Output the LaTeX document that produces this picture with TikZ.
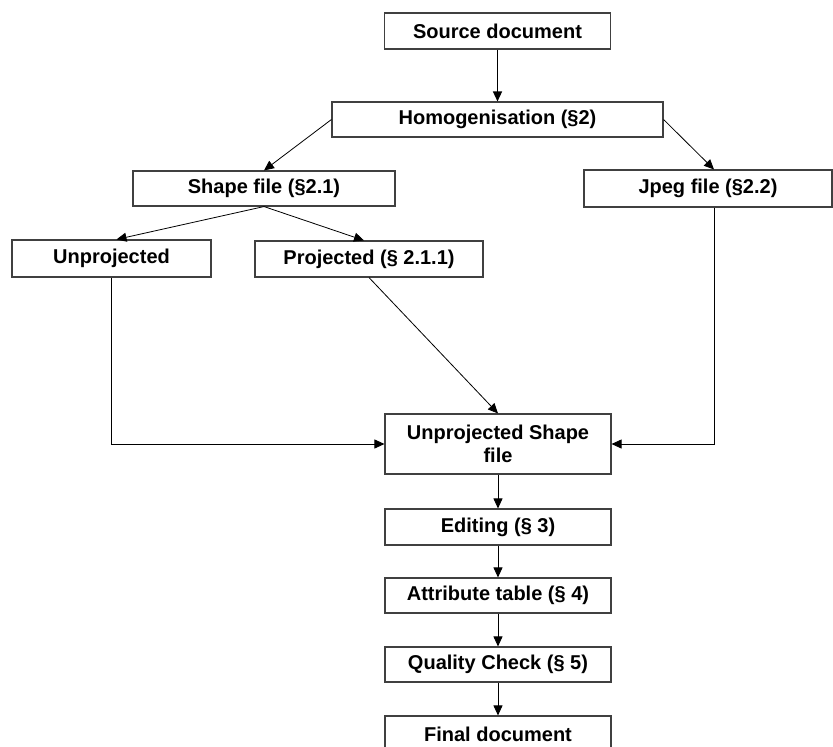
\documentclass[tikz,border=0pt]{standalone}
\usepackage{fontspec}
\setmainfont{Liberation Sans}
\usetikzlibrary{arrows.meta,positioning,calc}

\begin{document}
\begin{tikzpicture}[
  x=1pt,y=-1pt,
  every node/.style={font=\fontsize{20}{23}\selectfont\bfseries},
  stepbox/.style={draw=black!75,line width=1.1pt,fill=white,align=center,inner sep=0pt,
                  minimum width=226pt,minimum height=36pt},
  flow/.style={draw=black,line width=0.8pt,-{Triangle[length=10pt,width=9pt]}},
]
  \useasboundingbox (0,0) rectangle (833,747);
  % Top
  \node[stepbox] (src) at (497.5,31) {Source document};
  \node[stepbox,minimum width=331pt,minimum height=35pt] (homog) at (497.5,119.5) {Homogenisation (§2)};
  % Branches
  \node[stepbox,minimum width=262pt,minimum height=35pt] (shape) at (264,188.5) {Shape file (§2.1)};
  \node[stepbox,minimum width=248pt,minimum height=37pt] (jpeg) at (708,188.5) {Jpeg file (§2.2)};
  \node[stepbox,minimum width=199pt,minimum height=37pt] (unproj) at (111.5,258.5) {Unprojected};
  \node[stepbox,minimum width=228pt] (proj) at (369,259) {Projected (§ 2.1.1)};
  % Main column
  \node[stepbox,minimum height=60pt] (ushape) at (498,444) {Unprojected Shape\\file};
  \node[stepbox] (edit) at (498,527) {Editing (§ 3)};
  \node[stepbox,minimum height=35pt] (attr) at (498,595.5) {Attribute table (§ 4)};
  \node[stepbox,minimum height=35pt] (qual) at (498,664.5) {Quality Check (§ 5)};
  \node[stepbox] (final) at (498,734) {Final document};

  % Connectors
  \draw[flow,line width=1.3pt] (src) -- (homog);
  \draw[flow] (homog.west) -- (shape.north);
  \draw[flow] (homog.east) -- ([xshift=6pt]jpeg.north);
  \draw[flow] (shape.south) -- ([xshift=5pt]unproj.north);
  \draw[flow] (shape.south) -- ([xshift=-5pt]proj.north);
  \draw[flow] (unproj.south) |- (ushape.west);
  \draw[flow] (proj.south) -- (ushape.north);
  \draw[flow] ([xshift=6pt]jpeg.south) |- (ushape.east);
  \draw[flow] (ushape) -- (edit);
  \draw[flow] (edit) -- (attr);
  \draw[flow] (attr) -- (qual);
  \draw[flow] (qual) -- (final);
\end{tikzpicture}
\end{document}
